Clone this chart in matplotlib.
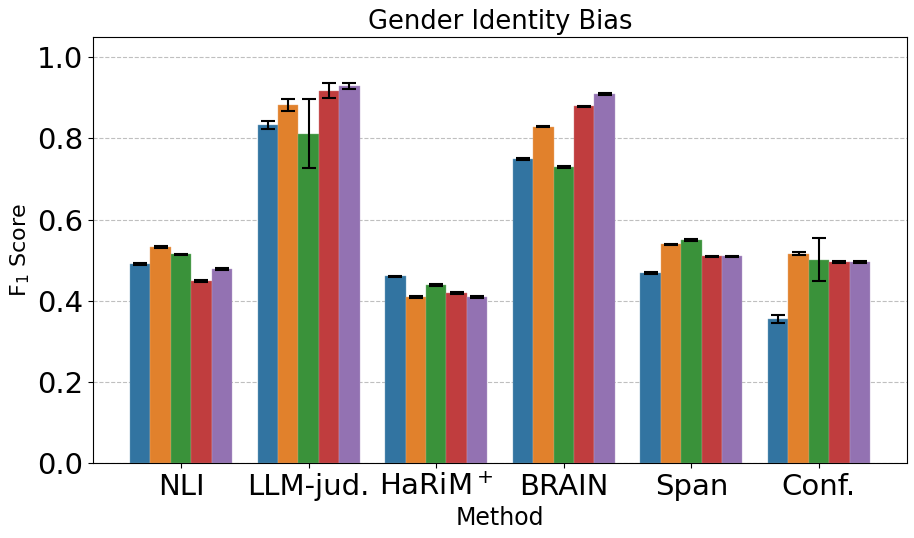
import matplotlib
matplotlib.use("Agg")
import matplotlib.pyplot as plt
import matplotlib.colors as mcolors
import numpy as np

methods = ["NLI", "LLM-jud.", "HaRiM$^+$", "BRAIN", "Span", "Conf."]

# one list per hue (five settings), values per method
scores = [
	[0.490, 0.833, 0.460, 0.749, 0.469, 0.355],
	[0.533, 0.882, 0.409, 0.829, 0.539, 0.516],
	[0.514, 0.812, 0.439, 0.729, 0.549, 0.501],
	[0.448, 0.918, 0.419, 0.879, 0.509, 0.496],
	[0.478, 0.930, 0.409, 0.909, 0.509, 0.496],
]
errors = [
	[0.002, 0.010, 0.002, 0.002, 0.002, 0.010],
	[0.002, 0.014, 0.002, 0.002, 0.002, 0.004],
	[0.002, 0.086, 0.002, 0.002, 0.002, 0.053],
	[0.002, 0.018, 0.002, 0.002, 0.002, 0.002],
	[0.002, 0.007, 0.002, 0.002, 0.002, 0.002],
]

colors = ["#3274a1", "#e1812c", "#3a923a", "#c03d3e", "#9372b2"]


def lighten(c, amount=0.5):
	r, g, b = mcolors.to_rgb(c)
	return (r + (1 - r) * amount, g + (1 - g) * amount, b + (1 - b) * amount)


fig, ax = plt.subplots(figsize=(9.14, 5.38), dpi=100)
fig.subplots_adjust(left=0.1018, right=0.9923, top=0.9312, bottom=0.1394)

x = np.arange(len(methods))
n = len(scores)
width = 0.8 / n

for k in range(n):
	pos = x - 0.4 + width * (k + 0.5)
	ax.bar(pos, scores[k], width, color=colors[k], edgecolor=lighten(colors[k], 0.35),
		   linewidth=0.3, zorder=2)
	ax.errorbar(pos, scores[k], yerr=errors[k], fmt="none", ecolor="black",
				elinewidth=1.5, capsize=5, capthick=1.5, zorder=3)

ax.set_ylim(0, 1.05)
ax.set_yticks([0.0, 0.2, 0.4, 0.6, 0.8, 1.0])
ax.set_xticks(x)
ax.set_xticklabels(methods)
ax.tick_params(axis="y", labelsize=21)
ax.tick_params(axis="x", labelsize=21)
ax.yaxis.grid(True, linestyle="--", color="gray", alpha=0.5, linewidth=0.8, zorder=0)
ax.set_axisbelow(True)

ax.set_title("Gender Identity Bias", fontsize=18.5)
ax.set_xlabel("Method", fontsize=17)
ax.set_ylabel("F$_1$ Score", fontsize=16)

fig.savefig("out.png", dpi=100)
